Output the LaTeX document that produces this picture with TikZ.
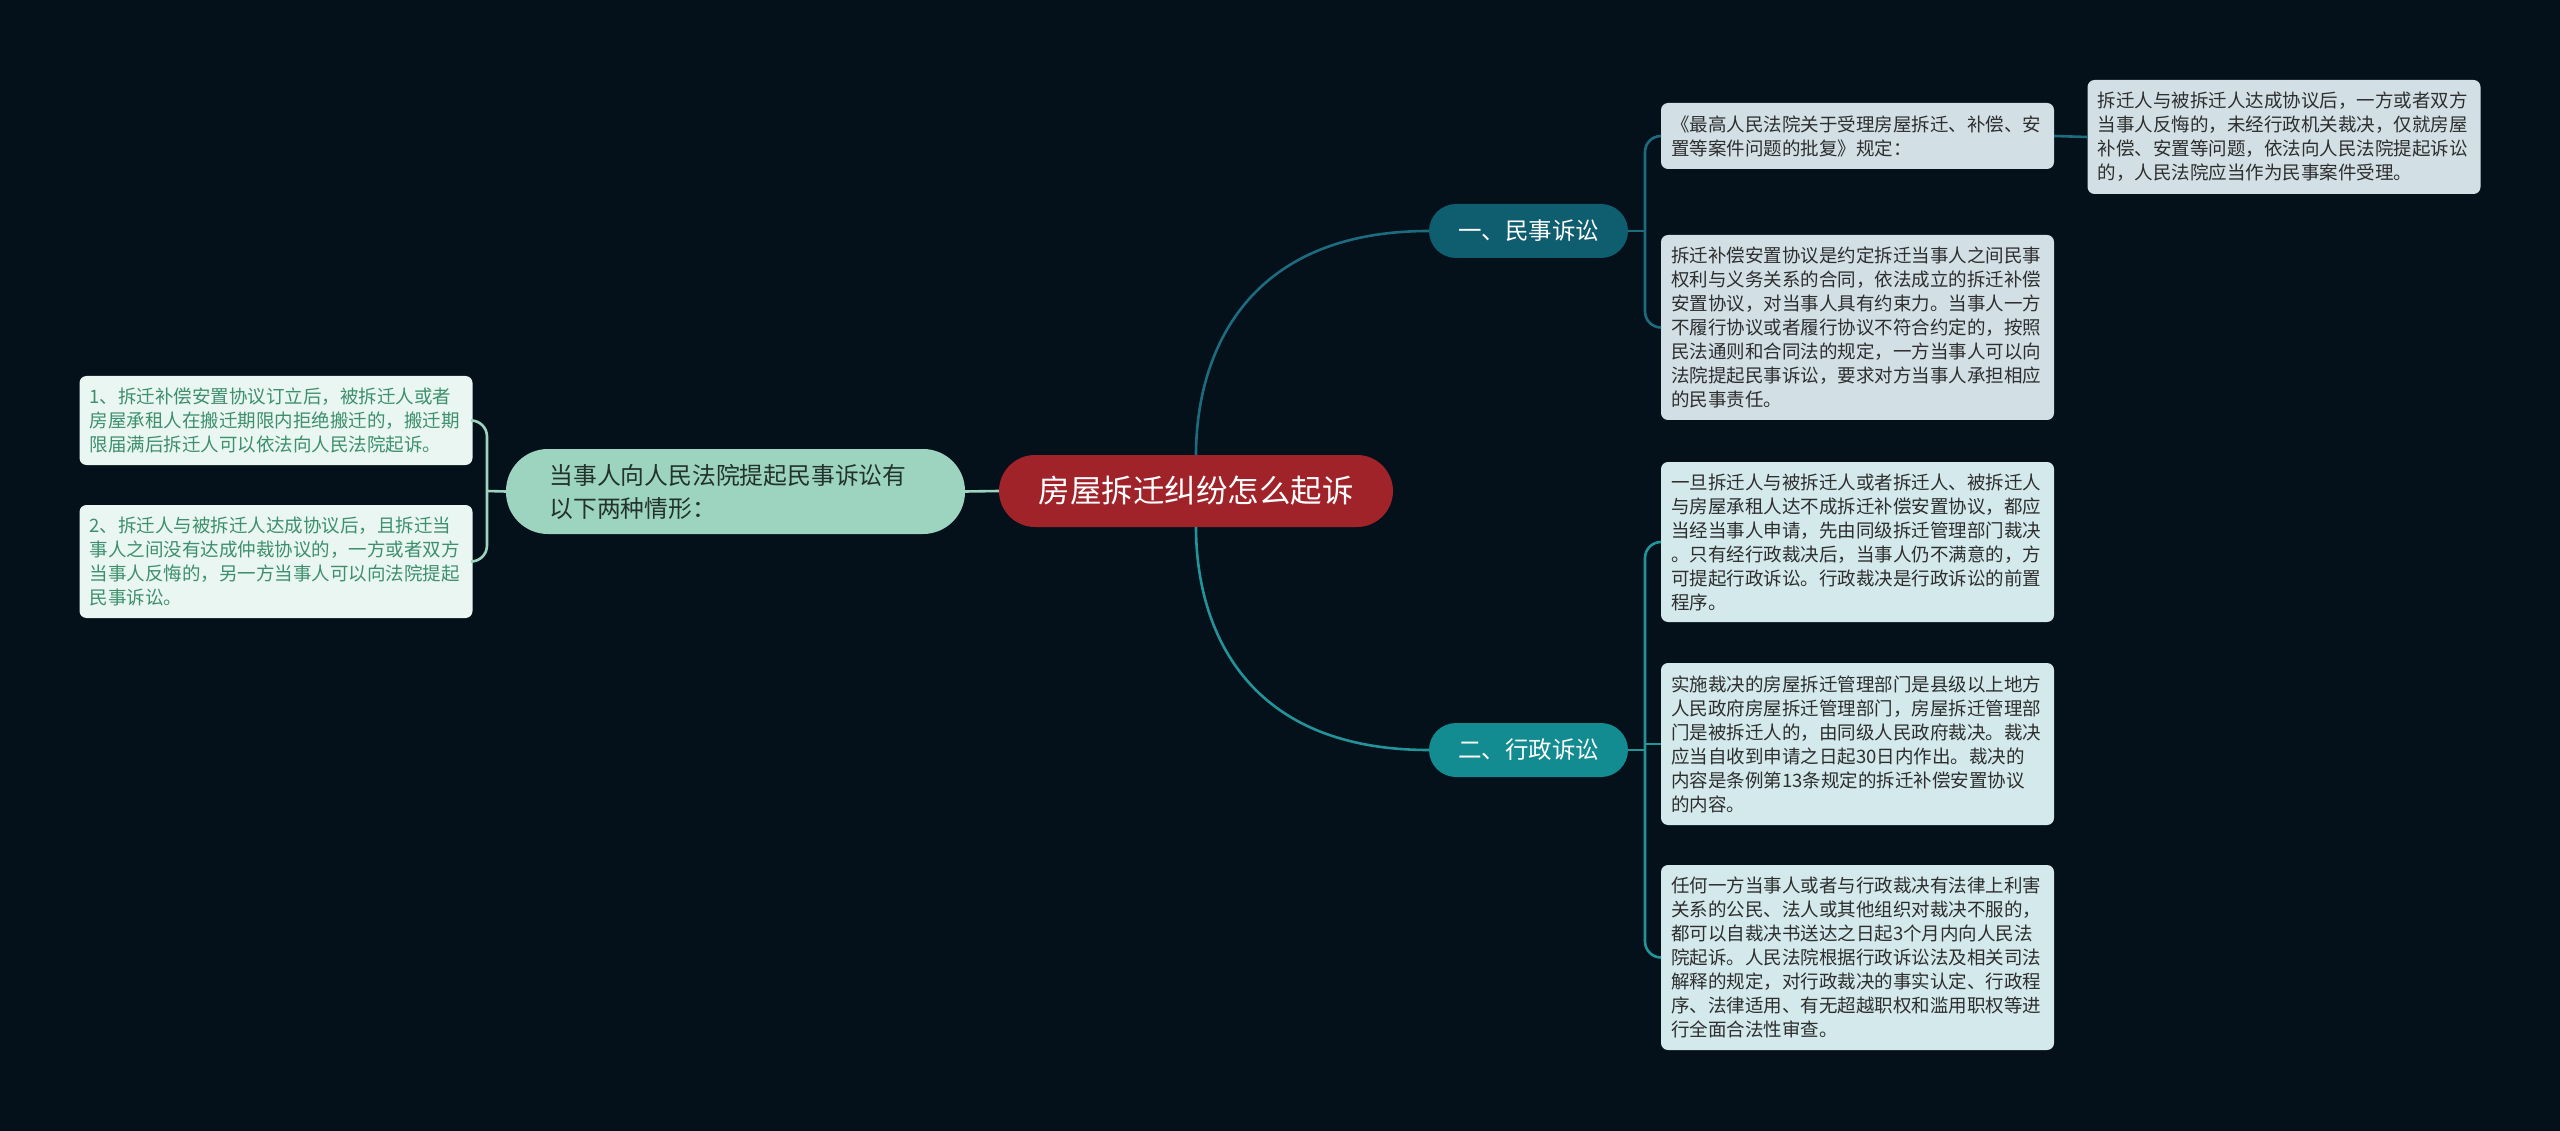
\documentclass[tikz,border=0pt]{standalone}
\usepackage{fontspec}
\setmainfont{Noto Sans CJK SC}
\definecolor{bg}{HTML}{04101A}
\definecolor{rootred}{HTML}{A0232A}
\definecolor{leftgreen}{HTML}{9DD4C0}
\definecolor{leftline}{HTML}{9DD4C0}
\definecolor{lboxfill}{HTML}{EAF6F1}
\definecolor{lboxtext}{HTML}{3D8F6E}
\definecolor{onefill}{HTML}{0E5E6F}
\definecolor{oneline}{HTML}{1C6B7E}
\definecolor{twofill}{HTML}{138C91}
\definecolor{twoline}{HTML}{229398}
\definecolor{upfill}{HTML}{D2E0E6}
\definecolor{lowfill}{HTML}{D3E9EC}
\definecolor{txtdark}{HTML}{2E2E2E}
\definecolor{lefttext}{HTML}{22332D}
\begin{document}
\begin{tikzpicture}[x=1pt,y=-1pt,
  rbox/.style={rounded corners=7pt, inner xsep=10pt, inner ysep=0pt,
    text width=373pt, align=left, text=txtdark,
    font=\fontsize{18.5}{24}\selectfont},
  lbox/.style={rbox, fill=lboxfill, text=lboxtext},
  mainbr/.style={rounded corners=27pt, minimum width=199pt, minimum height=54pt,
    inner sep=0pt, text=white, font=\fontsize{23.5}{28}\selectfont},
  conn/.style={line width=2.6pt}
]
\fill[bg] (0,0) rectangle (2560,1131);
\useasboundingbox (0,0) rectangle (2560,1131);

% root
\node[fill=rootred, rounded corners=36pt, minimum width=394pt, minimum height=72pt,
  inner sep=0pt, text=white, font=\fontsize{31.5}{36}\selectfont] (root) at (1196,491) {房屋拆迁纠纷怎么起诉};

% left branch
\node[fill=leftgreen, rounded corners=42pt, minimum height=85pt, inner xsep=43.5pt, inner ysep=0pt,
  text width=372pt, align=left, text=lefttext, font=\fontsize{23.8}{33}\selectfont] (lft) at (735.5,491.5)
  {当事人向人民法院提起民事诉讼有\\以下两种情形：};
\node[lbox, minimum height=89pt] (L1) at (276,420.5)
  {1、拆迁补偿安置协议订立后，被拆迁人或者\\房屋承租人在搬迁期限内拒绝搬迁的，搬迁期\\限届满后拆迁人可以依法向人民法院起诉。};
\node[lbox, minimum height=113pt] (L2) at (276,561.5)
  {2、拆迁人与被拆迁人达成协议后，且拆迁当\\事人之间没有达成仲裁协议的，一方或者双方\\当事人反悔的，另一方当事人可以向法院提起\\民事诉讼。};

% right main branches
\node[mainbr, fill=onefill] (m1) at (1528.5,231) {一、民事诉讼};
\node[mainbr, fill=twofill] (m2) at (1528.5,750) {二、行政诉讼};

% upper leaves
\node[rbox, fill=upfill, minimum height=66pt] (R1) at (1857.5,136)
  {《最高人民法院关于受理房屋拆迁、补偿、安\\置等案件问题的批复》规定：};
\node[rbox, fill=upfill, minimum height=114pt] (R1a) at (2284,137)
  {拆迁人与被拆迁人达成协议后，一方或者双方\\当事人反悔的，未经行政机关裁决，仅就房屋\\补偿、安置等问题，依法向人民法院提起诉讼\\的，人民法院应当作为民事案件受理。};
\node[rbox, fill=upfill, minimum height=185pt] (R2) at (1857.5,327.5)
  {拆迁补偿安置协议是约定拆迁当事人之间民事\\权利与义务关系的合同，依法成立的拆迁补偿\\安置协议，对当事人具有约束力。当事人一方\\不履行协议或者履行协议不符合约定的，按照\\民法通则和合同法的规定，一方当事人可以向\\法院提起民事诉讼，要求对方当事人承担相应\\的民事责任。};

% lower leaves
\node[rbox, fill=lowfill, minimum height=160pt] (R3) at (1857.5,542)
  {一旦拆迁人与被拆迁人或者拆迁人、被拆迁人\\与房屋承租人达不成拆迁补偿安置协议，都应\\当经当事人申请，先由同级拆迁管理部门裁决\\。只有经行政裁决后，当事人仍不满意的，方\\可提起行政诉讼。行政裁决是行政诉讼的前置\\程序。};
\node[rbox, fill=lowfill, minimum height=162pt] (R4) at (1857.5,744)
  {实施裁决的房屋拆迁管理部门是县级以上地方\\人民政府房屋拆迁管理部门，房屋拆迁管理部\\门是被拆迁人的，由同级人民政府裁决。裁决\\应当自收到申请之日起30日内作出。裁决的\\内容是条例第13条规定的拆迁补偿安置协议\\的内容。};
\node[rbox, fill=lowfill, minimum height=185pt] (R5) at (1857.5,957.5)
  {任何一方当事人或者与行政裁决有法律上利害\\关系的公民、法人或其他组织对裁决不服的，\\都可以自裁决书送达之日起3个月内向人民法\\院起诉。人民法院根据行政诉讼法及相关司法\\解释的规定，对行政裁决的事实认定、行政程\\序、法律适用、有无超越职权和滥用职权等进\\行全面合法性审查。};

% junction coordinates
\coordinate (lj) at (487,491);
\coordinate (j1) at (1645,231);
\coordinate (j2) at (1645,750);

% connectors
\draw[conn, oneline] (root.north) .. controls +(0,-93) and +(-189,0) .. (m1.west);
\draw[conn, twoline] (root.south) .. controls +(0,93) and +(-190,0) .. (m2.west);
\draw[conn, leftline] (root.west) -- (lft.east);
\draw[conn, leftline] (lft.west) -- (lj);
\draw[conn, leftline, rounded corners=16pt] (L1.east) -| (lj) |- (L2.east);

\draw[conn, oneline] (m1.east) -- (j1);
\draw[conn, oneline, rounded corners=16pt] (R1.west) -| (j1) |- (R2.west);
\draw[conn, oneline] (R1.east) -- (R1a.west);

\draw[conn, twoline] (m2.east) -- (j2);
\draw[conn, twoline, rounded corners=16pt] (R3.west) -| (j2) |- (R5.west);
\draw[conn, twoline] (j2 |- R4.west) -- (R4.west);
\end{tikzpicture}
\end{document}
